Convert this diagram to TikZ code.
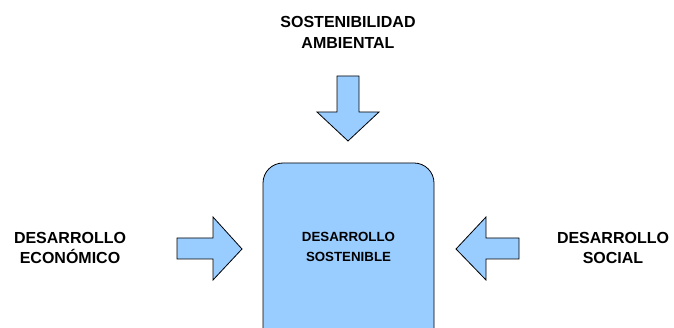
\documentclass[tikz,border=0pt]{standalone}
\usepackage{fontspec}
\setmainfont{Liberation Sans}
\definecolor{boxblue}{HTML}{99CCFF}
\tikzset{
  lbl/.style={align=center, font=\fontsize{16}{20.5}\selectfont\bfseries, inner sep=0pt},
  innerlbl/.style={align=center, font=\fontsize{13.3}{20}\selectfont\bfseries, inner sep=0pt},
  blockarrow/.style={fill=boxblue, draw=black, line width=0.8pt, line join=miter},
  mainbox/.style={fill=boxblue, draw=black, line width=0.8pt, rounded corners=20pt}
}
\begin{document}
\begin{tikzpicture}[x=1pt,y=-1pt]
\useasboundingbox (0,0) rectangle (674,328);
\clip (0,0) rectangle (674,328);
\fill[white] (0,0) rectangle (674,328);
% main box
\draw[mainbox] (263,163) rectangle (434,360);
\node[innerlbl] (center) at (348.5,247) {DESARROLLO\\SOSTENIBLE};
% labels
\node[lbl] (top) at (348,32.5) {SOSTENIBILIDAD\\AMBIENTAL};
\node[lbl] (left) at (70,248) {DESARROLLO\\ECONÓMICO};
\node[lbl] (right) at (613,248) {DESARROLLO\\SOCIAL};
% down arrow
\draw[blockarrow] (337,76) -- (359,76) -- (359,112) -- (379,112) -- (348,141) -- (317,112) -- (337,112) -- cycle;
% right-pointing arrow
\draw[blockarrow] (177,238) -- (213,238) -- (213,217) -- (242,249) -- (213,280) -- (213,259) -- (177,259) -- cycle;
% left-pointing arrow
\draw[blockarrow] (519,238) -- (486,238) -- (486,217) -- (456,249) -- (486,280) -- (486,259) -- (519,259) -- cycle;
\end{tikzpicture}
\end{document}
